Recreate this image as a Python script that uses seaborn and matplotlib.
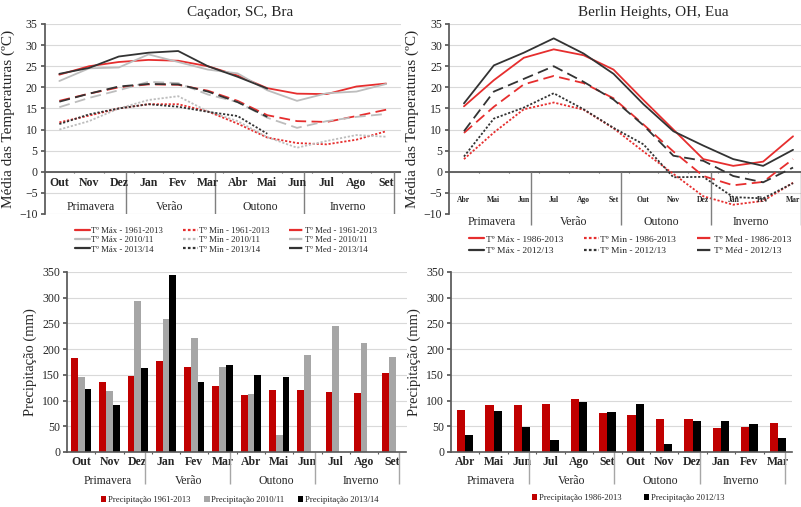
import numpy as np
import pandas as pd
import matplotlib.pyplot as plt
import seaborn as sns
from matplotlib.lines import Line2D

# meses / estações
CAC_MESES = ["Out", "Nov", "Dez", "Jan", "Fev", "Mar", "Abr", "Mai", "Jun", "Jul", "Ago", "Set"]
BER_MESES = ["Abr", "Mai", "Jun", "Jul", "Ago", "Set", "Out", "Nov", "Dez", "Jan", "Fev", "Mar"]
ESTACOES = ["Primavera", "Verão", "Outono", "Inverno"]

# Caçador, SC - temperaturas (ºC)
cac_max_hist = [23.0, 25.0, 26.0, 26.5, 26.3, 25.0, 22.8, 19.8, 18.5, 18.4, 20.2, 20.9]
cac_max_1011 = [21.5, 24.5, 24.7, 27.8, 26.0, 24.2, 23.3, 19.3, 16.8, 18.6, 19.0, 20.8]
cac_max_1314 = [23.2, 24.6, 27.3, 28.2, 28.6, 25.0, 22.5, 19.7, np.nan, np.nan, np.nan, np.nan]
cac_min_hist = [11.7, 13.3, 15.0, 16.0, 16.0, 14.3, 11.4, 8.1, 6.8, 6.5, 7.6, 9.6]
cac_min_1011 = [10.0, 12.0, 15.0, 17.0, 17.9, 14.3, 12.0, 8.2, 5.7, 7.3, 8.7, 8.3]
cac_min_1314 = [11.3, 13.6, 15.0, 16.0, 15.4, 14.2, 13.2, 9.0, np.nan, np.nan, np.nan, np.nan]
cac_med_hist = [16.8, 18.5, 20.0, 20.7, 20.6, 19.2, 16.8, 13.4, 12.0, 11.8, 13.2, 14.7]
cac_med_1011 = [15.3, 17.5, 19.3, 21.3, 21.0, 18.3, 16.5, 12.8, 10.4, 12.0, 13.0, 13.7]
cac_med_1314 = [16.6, 18.5, 20.2, 20.8, 20.7, 19.0, 16.5, 13.0, np.nan, np.nan, np.nan, np.nan]

# Berlin Heights, OH - temperaturas (ºC)
ber_max_hist = [15.5, 21.7, 27.0, 29.0, 27.6, 24.2, 17.0, 10.0, 3.0, 1.4, 2.4, 8.4]
ber_max_1213 = [16.2, 25.2, 28.2, 31.6, 28.0, 23.2, 16.0, 9.6, 6.2, 3.0, 1.4, 5.2]
ber_min_hist = [3.0, 9.3, 14.8, 16.4, 14.7, 10.3, 4.8, -0.5, -5.8, -7.8, -6.9, -2.6]
ber_min_1213 = [3.6, 12.6, 15.2, 18.6, 14.8, 10.4, 6.5, -1.3, -1.2, -6.0, -6.3, -2.7]
ber_med_hist = [9.2, 15.4, 20.7, 22.7, 21.0, 17.4, 11.2, 4.8, -1.0, -3.2, -2.4, 3.0]
ber_med_1213 = [9.6, 19.0, 22.0, 25.0, 21.3, 17.1, 11.0, 3.8, 2.6, -1.0, -2.5, 1.0]

# precipitação (mm)
cac_prec_hist = [182, 136, 148, 176, 165, 129, 110, 120, 120, 117, 115, 154]
cac_prec_1011 = [146, 118, 294, 259, 222, 165, 112, 33, 188, 245, 212, 185]
cac_prec_1314 = [122, 91, 164, 345, 136, 170, 150, 145, np.nan, np.nan, np.nan, np.nan]
ber_prec_hist = [82, 92, 92, 94, 104, 75, 71, 64, 65, 46, 49, 57]
ber_prec_1213 = [34, 80, 49, 24, 98, 77, 93, 16, 61, 60, 54, 28]

RED = "#E62E2E"
LGRAY = "#BDBDBD"
DARK = "#333333"
SOLID = "-"
DOT = (0, (1.2, 1.0))
DASH = (0, (6, 3))

sns.set_theme(style="white")
plt.rcParams["font.family"] = ["Liberation Serif", "DejaVu Serif"]

fig = plt.figure(figsize=(8.01, 5.07), dpi=100)

ax_tl = fig.add_axes([44.5 / 801, 1 - 214 / 507, 356.5 / 801, 190 / 507])
ax_tr = fig.add_axes([449 / 801, 1 - 214 / 507, 359 / 801, 190 / 507])
ax_bl = fig.add_axes([67 / 801, 1 - 452 / 507, 339.5 / 801, 180 / 507])
ax_br = fig.add_axes([451 / 801, 1 - 452 / 507, 341 / 801, 180 / 507])

SEP = [2.25, 5.25, 8.25, 11.25]


def draw_temps(ax, series, months):
    x = np.arange(len(months))
    handles, labels = [], []
    for label, vals, color, ls in series:
        sns.lineplot(x=x, y=vals, color=color, linestyle=ls, linewidth=1.3, ax=ax)
        handles.append(Line2D([], [], color=color, linestyle=ls, linewidth=1.6))
        labels.append(label)
    ax.set_xlim(-0.5, 11.5)
    ax.set_ylim(-10, 35)
    ax.set_yticks(range(-10, 36, 5))
    ax.set_xticks([])
    ax.grid(axis="y", color="#D9D9D9", linewidth=0.8)
    ax.set_axisbelow(True)
    for s in ["top", "right", "bottom"]:
        ax.spines[s].set_visible(False)
    ax.spines["left"].set_color("#595959")
    ax.axhline(0, color="#595959", linewidth=1.3, zorder=1)
    ax.vlines(np.arange(0.5, 11.5, 1), -0.35, 0, color="#595959", linewidth=0.8)
    ax.tick_params(axis="y", labelsize=8.5, length=3, left=True, color="#595959", pad=2)
    return handles, labels


# --- Caçador temperaturas
tl_series = [
    ("Tº Máx - 1961-2013", cac_max_hist, RED, SOLID),
    ("Tº Máx - 2010/11", cac_max_1011, LGRAY, SOLID),
    ("Tº Máx - 2013/14", cac_max_1314, DARK, SOLID),
    ("Tº Min - 1961-2013", cac_min_hist, RED, DOT),
    ("Tº Min - 2010/11", cac_min_1011, LGRAY, DOT),
    ("Tº Min - 2013/14", cac_min_1314, DARK, DOT),
    ("Tº Med - 1961-2013", cac_med_hist, RED, DASH),
    ("Tº Med - 2010/11", cac_med_1011, LGRAY, DASH),
    ("Tº Med - 2013/14", cac_med_1314, DARK, DASH),
]
h, l = draw_temps(ax_tl, tl_series, CAC_MESES)
for i, m in enumerate(CAC_MESES):
    ax_tl.text(i, -2.6, m, ha="center", va="center", fontsize=8.5, fontweight="bold")
ax_tl.vlines(SEP, -10, 0, color="#7F7F7F", linewidth=1.0)
for xpos, s in zip([1.05, 3.7, 6.75, 9.7], ESTACOES):
    ax_tl.text(xpos, -8.3, s, ha="center", va="center", fontsize=8.5)
ax_tl.set_ylabel("Média das Temperaturas (ºC)", fontsize=11, labelpad=3)
ax_tl.set_title("Caçador, SC, Bra", x=(240 - 44.5) / 356.5, fontsize=11, pad=6)
fig.legend(h, l, ncol=3, loc="center", bbox_to_anchor=(226 / 801, 1 - 240 / 507),
           frameon=False, fontsize=6.3, handlelength=1.7, handletextpad=0.1,
           columnspacing=2.3, labelspacing=0.15, borderpad=0)

# --- Berlin temperaturas
tr_series = [
    ("Tº Máx - 1986-2013", ber_max_hist, RED, SOLID),
    ("Tº Máx - 2012/13", ber_max_1213, DARK, SOLID),
    ("Tº Min - 1986-2013", ber_min_hist, RED, DOT),
    ("Tº Min - 2012/13", ber_min_1213, DARK, DOT),
    ("Tº Med - 1986-2013", ber_med_hist, RED, DASH),
    ("Tº Méd - 2012/13", ber_med_1213, DARK, DASH),
]
h, l = draw_temps(ax_tr, tr_series, BER_MESES)
for i, m in enumerate(BER_MESES):
    ax_tr.text(i, -6.6, m, ha="center", va="center", fontsize=5.5, fontweight="bold")
ax_tr.vlines(SEP, -12.6, 0, color="#7F7F7F", linewidth=1.0, clip_on=False)
for xpos, s in zip([0.92, 3.65, 6.6, 9.6], ESTACOES):
    ax_tr.text(xpos, -11.9, s, ha="center", va="center", fontsize=8.5)
ax_tr.set_ylabel("Média das Temperaturas (ºC)", fontsize=11, labelpad=3)
ax_tr.set_title("Berlin Heights, OH, Eua", x=(653 - 449) / 359, fontsize=11, pad=6)
fig.legend(h, l, ncol=3, loc="center", bbox_to_anchor=(630 / 801, 1 - 245 / 507),
           frameon=False, fontsize=6.8, handlelength=1.6, handletextpad=0.15,
           columnspacing=2.2, labelspacing=0.3, borderpad=0)


def draw_prec(ax, months, series, width, season_pos):
    rows = []
    for label, vals, _ in series:
        for m, v in zip(months, vals):
            rows.append({"mes": m, "serie": label, "valor": v})
    df = pd.DataFrame(rows).dropna()
    sns.barplot(data=df, x="mes", y="valor", hue="serie", order=months,
                hue_order=[s[0] for s in series],
                palette=[s[2] for s in series], width=width, errorbar=None,
                saturation=1, linewidth=0, ax=ax)
    handles, labels = ax.get_legend_handles_labels()
    ax.get_legend().remove()
    ax.set_xlim(-0.5, 11.5)
    ax.set_ylim(0, 350)
    ax.set_yticks(range(0, 351, 50))
    ax.set_xlabel("")
    ax.set_ylabel("Precipitação (mm)", fontsize=10.5, labelpad=4)
    ax.grid(axis="y", color="#D9D9D9", linewidth=0.8)
    ax.set_axisbelow(True)
    for s in ["top", "right"]:
        ax.spines[s].set_visible(False)
    ax.spines["left"].set_color("#595959")
    ax.spines["bottom"].set_color("#595959")
    ax.spines["bottom"].set_linewidth(1.2)
    ax.tick_params(axis="y", labelsize=8.5, length=3, left=True, color="#595959", pad=2)
    ax.tick_params(axis="x", length=0, pad=3)
    for t in ax.get_xticklabels():
        t.set_fontsize(8.5)
        t.set_fontweight("bold")
    ax.vlines(np.arange(0.5, 11.5, 1), -4, 0, color="#595959", linewidth=0.8, clip_on=False)
    tr = ax.get_xaxis_transform()
    ax.vlines(SEP, -0.175, 0, color="#A6A6A6", linewidth=1.0, clip_on=False, transform=tr)
    for xpos, s in zip(season_pos, ESTACOES):
        ax.text(xpos, -0.16, s, ha="center", va="center", fontsize=8.5, transform=tr)
    return handles, labels


h, l = draw_prec(ax_bl, CAC_MESES, [
    ("Precipitação 1961-2013", cac_prec_hist, "#C00000"),
    ("Precipitação 2010/11", cac_prec_1011, "#A6A6A6"),
    ("Precipitação 2013/14", cac_prec_1314, "#000000"),
], 0.72, [0.95, 3.8, 6.9, 9.9])
fig.legend(h, l, ncol=3, loc="center", bbox_to_anchor=(240 / 801, 1 - 500 / 507),
           frameon=False, fontsize=6.2, handlelength=0.6, handleheight=0.6,
           handletextpad=0.2, columnspacing=1.6, borderpad=0)

h, l = draw_prec(ax_br, BER_MESES, [
    ("Precipitação 1986-2013", ber_prec_hist, "#C00000"),
    ("Precipitação 2012/13", ber_prec_1213, "#000000"),
], 0.58, [0.91, 3.73, 6.85, 9.7])
fig.legend(h, l, ncol=2, loc="center", bbox_to_anchor=(628 / 801, 1 - 498 / 507),
           frameon=False, fontsize=6.2, handlelength=0.6, handleheight=0.6,
           handletextpad=0.2, columnspacing=2.6, borderpad=0)

fig.savefig("out.png", dpi=100)
